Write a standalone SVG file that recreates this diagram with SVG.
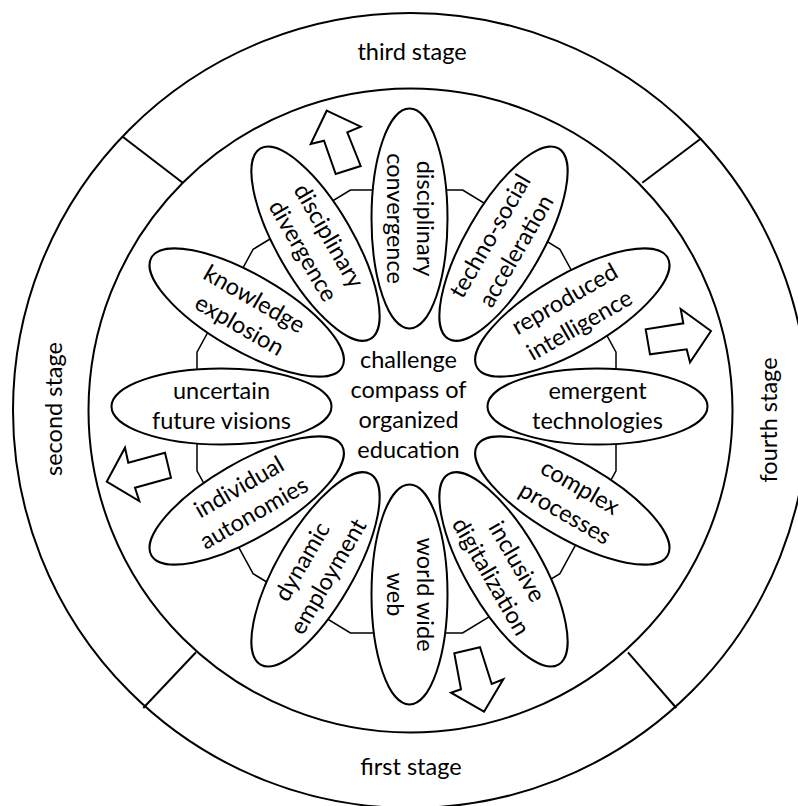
<svg xmlns="http://www.w3.org/2000/svg" width="798" height="806" viewBox="0 0 798 806">
<style>
.ring{fill:none;stroke:#000;stroke-width:2}
.sep{stroke:#000;stroke-width:2}
.poly{fill:#fff;stroke:#000;stroke-width:1.5}
.el{fill:#fff;stroke:#000;stroke-width:2}
.arr{fill:#fff;stroke:#000;stroke-width:2;stroke-linejoin:miter}
text{font-family:Lato,"Liberation Sans",sans-serif;font-size:23.5px;fill:#000;text-anchor:middle}
</style>
<rect width="798" height="806" fill="#fff"/>
<g id="rings">
<circle class="ring" cx="410.5" cy="410.5" r="397.5"/>
<circle class="ring" cx="410.5" cy="410.5" r="322"/>
</g>
<g id="separators">
<line class="sep" x1="122.7" y1="136.7" x2="182.7" y2="182.7"/>
<line class="sep" x1="701.3" y1="138.3" x2="642.3" y2="182.7"/>
<line class="sep" x1="143.3" y1="708" x2="196" y2="652.3"/>
<line class="sep" x1="676.3" y1="708" x2="628" y2="652.3"/>
</g>
<g id="stages">
<text x="412" y="60">third stage</text>
<text x="411" y="775">first stage</text>
<text transform="translate(62,409) rotate(-90)">second stage</text>
<text transform="translate(777,420) rotate(-90)">fourth stage</text>
</g>
<g id="compass">
<polygon class="poly" points="462.6,190 559.9,249.3 616,352.2 616,470.8 559.9,573.7 462.6,633 350.4,633 253.1,573.7 197,470.8 197,352.2 253.1,249.3 350.4,190"/>
<text x="408.5" y="367.7">challenge</text>
<text x="408.5" y="398.3">compass of</text>
<text x="408.5" y="428.3">organized</text>
<text x="408.5" y="458.3">education</text>
</g>
<g id="n-disciplinary-convergence" transform="translate(409.5,218.5)">
<ellipse class="el" rx="38" ry="110"/>
<text transform="rotate(90)"><tspan x="0" y="-7.5">disciplinary</tspan><tspan x="0" y="22.5">convergence</tspan></text>
</g>
<g id="n-techno-social-acceleration" transform="translate(503.5,243.7)">
<ellipse class="el" rx="38" ry="110" transform="rotate(30)"/>
<text transform="rotate(-60)"><tspan x="0" y="-7.5">techno-social</tspan><tspan x="0" y="22.5">acceleration</tspan></text>
</g>
<g id="n-reproduced-intelligence" transform="translate(572.3,312.5)">
<ellipse class="el" rx="38" ry="110" transform="rotate(60)"/>
<text transform="rotate(-30)"><tspan x="0" y="-7.5">reproduced</tspan><tspan x="0" y="22.5">intelligence</tspan></text>
</g>
<g id="n-emergent-technologies" transform="translate(597.5,406.5)">
<ellipse class="el" rx="38" ry="110" transform="rotate(90)"/>
<text><tspan x="0" y="-7.5">emergent</tspan><tspan x="0" y="22.5">technologies</tspan></text>
</g>
<g id="n-complex-processes" transform="translate(572.3,500.5)">
<ellipse class="el" rx="38" ry="110" transform="rotate(120)"/>
<text transform="rotate(30)"><tspan x="0" y="-7.5">complex</tspan><tspan x="0" y="22.5">processes</tspan></text>
</g>
<g id="n-inclusive-digitalization" transform="translate(503.5,569.3)">
<ellipse class="el" rx="38" ry="110" transform="rotate(150)"/>
<text transform="rotate(60)"><tspan x="0" y="-7.5">inclusive</tspan><tspan x="0" y="22.5">digitalization</tspan></text>
</g>
<g id="n-world-wide-web" transform="translate(409.5,594.5)">
<ellipse class="el" rx="38" ry="110"/>
<text transform="rotate(90)"><tspan x="0" y="-7.5">world wide</tspan><tspan x="0" y="22.5">web</tspan></text>
</g>
<g id="n-dynamic-employment" transform="translate(315.5,569.3)">
<ellipse class="el" rx="38" ry="110" transform="rotate(30)"/>
<text transform="rotate(-60)"><tspan x="0" y="-7.5">dynamic</tspan><tspan x="0" y="22.5">employment</tspan></text>
</g>
<g id="n-individual-autonomies" transform="translate(246.7,500.5)">
<ellipse class="el" rx="38" ry="110" transform="rotate(60)"/>
<text transform="rotate(-30)"><tspan x="0" y="-7.5">individual</tspan><tspan x="0" y="22.5">autonomies</tspan></text>
</g>
<g id="n-uncertain-future-visions" transform="translate(221.5,406.5)">
<ellipse class="el" rx="38" ry="110" transform="rotate(90)"/>
<text><tspan x="0" y="-7.5">uncertain</tspan><tspan x="0" y="22.5">future visions</tspan></text>
</g>
<g id="n-knowledge-explosion" transform="translate(246.7,312.5)">
<ellipse class="el" rx="38" ry="110" transform="rotate(120)"/>
<text transform="rotate(30)"><tspan x="0" y="-7.5">knowledge</tspan><tspan x="0" y="22.5">explosion</tspan></text>
</g>
<g id="n-disciplinary-divergence" transform="translate(315.5,243.7)">
<ellipse class="el" rx="38" ry="110" transform="rotate(150)"/>
<text transform="rotate(60)"><tspan x="0" y="-7.5">disciplinary</tspan><tspan x="0" y="22.5">divergence</tspan></text>
</g>
<g id="connectors">
<polygon class="arr" points="326.7,110.7 360.7,126.7 347.3,132.3 360.7,166 335.7,174 324,140.7 310.7,144"/>
<polygon class="arr" points="711,331 680.7,309 683.3,323.3 645.7,329.3 650,354.3 686.7,349.3 690,362.3"/>
<polygon class="arr" points="106.7,481.7 125,447.7 128.3,462.7 165,452.7 171,477.7 135,487.7 139.3,501"/>
<polygon class="arr" points="484,711.7 503.3,679.3 491.7,684 480,647.3 454.3,653.3 461,689.3 451,692.7"/>
</g>
</svg>
